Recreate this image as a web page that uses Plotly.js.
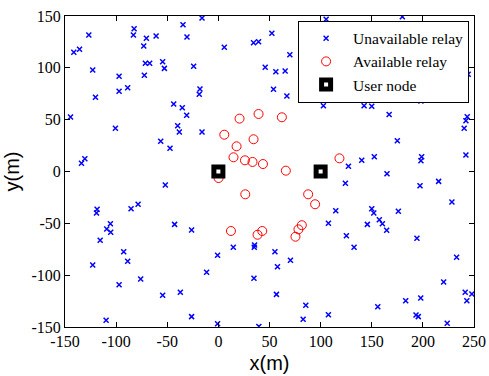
<!DOCTYPE html>
<html><head><meta charset="utf-8">
<script src="https://cdn.plot.ly/plotly-3.0.1.min.js"></script>
<style>html,body{margin:0;padding:0;background:#fff}#c{width:489px;height:376px}</style>
</head><body><div id="c"></div>
<script>
const unavailX = [-16,-82.4,-34.6,-126.7,-83.1,-70.4,-60.9,-30.7,-73,-135.8,-141.4,-71.4,-67.2,-54.5,-52.8,-122.9,-24.2,-97.1,-72.4,-88.7,-97.1,-18,-18.7,-120.2,-43.7,-35.3,-31,-144.6,-100.7,-39.8,-38.2,-16,-56.4,-47.3,-130.6,-133.9,-51.9,-118.6,-119.2,-85.4,-78.5,-105.6,-42.8,-109.2,-105.3,-26.2,-115.6,-92.6,-88.7,-0.8,-122.9,-11.5,-97.1,-76,-54.5,-37.2,-109.8,-26.2,-0.8,5.8,34.4,39.3,52.3,69.9,45.8,56.2,65.3,53.9,67,102.7,142.5,150,105.4,128.8,140.2,127.2,124.2,114.8,107.6,167,243.4,242.1,240.4,175,152.5,198.8,198.1,242.1,164.9,215.4,197.2,228.4,150,152,176,157.4,160.4,145.7,179.9,244.3,183.5,198.1,125.2,132.7,14.6,35.4,35.1,55.3,70.5,57.8,34.8,56.8,85.5,107.6,82.9,39.6,164.6,194.2,233,220.3,241.4,247.9,243,183.2,197.9,155.9,193.3,195.5,223.8];
const unavailY = [148,137.7,141.6,131.7,131.7,128.5,130.7,129.7,121,117.9,115,104.4,104.4,105.9,99.5,97.9,101.5,91.8,92.8,80.8,77.4,79.6,74.5,71.6,65.1,61.5,54.2,52.6,41.7,44.2,38.1,38.1,29.1,22.4,12.3,7.9,-13,-36.5,-40,-35.9,-31.6,-50.4,-51,-55.5,-58.6,-56.4,-66.4,-77.4,-86.6,-80.8,-90.2,-97.2,-109.2,-103.7,-119.4,-116.5,-143.5,-140,-146.8,119.8,124.2,125.2,133.3,112.7,100.5,96.3,96.9,79.3,72.8,63.5,63.5,62.9,146.8,75.4,10.8,5,-11.4,-37.8,-50,55,52.9,49,41.7,29.7,14.3,14.3,10.4,15.9,-2.1,-9.5,-13.7,-29.4,-35.9,-40,-38.4,-46.5,-50.4,-51,149.3,93.8,72.8,68,-61.9,-73.1,-73.1,-70.9,-73.1,-77.4,-85.7,-91.8,-103,-118.5,-129.1,-138.1,-142.6,-149.5,-56.7,-64.4,-82.8,-106.6,-116.5,-118.2,-124.6,-124.6,-122,-130.4,-138.4,-140,-146.4];
const availX = [20.7,39.3,62.1,5.8,34.4,17.8,14.8,26,33.4,43.6,66,118.4,0.2,26.3,87.8,94.6,81.6,12.3,38.3,42.9,75.4,78.3];
const availY = [51,55.5,52.3,35.5,31.1,24.3,13.7,10.8,9.2,7.2,0.8,12.7,-6.3,-22,-22,-31.6,-51.8,-57.4,-61,-57.4,-62.9,-55.8];
const userX = [0,100];
const userY = [0,0];
const xTicks = [-150,-100,-50,0,50,100,150,200,250];
const yTicks = [-150,-100,-50,0,50,100,150];

const serif = '"Liberation Serif", "Times New Roman", serif';
const sans = '"Liberation Sans", Arial, sans-serif';
const traces = [
  {x: unavailX, y: unavailY, type:'scatter', mode:'markers', name:'Unavailable relay',
   marker:{symbol:'x-thin', size:5, line:{color:'#0000ff', width:1.5}, color:'#0000ff'}},
  {x: availX, y: availY, type:'scatter', mode:'markers', name:'Available relay',
   marker:{symbol:'circle-open', size:9, color:'#ff0000', line:{width:1}}},
  {x: userX, y: userY, type:'scatter', mode:'markers', name:'User node',
   marker:{symbol:'square', size:9, color:'#ffffff', line:{color:'#000000', width:5}}}
];
const axisCommon = {showgrid:false, zeroline:false, showline:true, linecolor:'#000', linewidth:1,
  mirror:'ticks', ticks:'inside', ticklen:5, tickcolor:'#000',
  tickfont:{family:serif, size:16, color:'#000'}};
const layout = {
  width:489, height:376, paper_bgcolor:'#fff', plot_bgcolor:'#fff',
  margin:{l:65, r:15, t:16, b:49},
  showlegend:true,
  legend:{x:0.988, y:0.985, xanchor:'right', yanchor:'top', bgcolor:'#fff', bordercolor:'#000', borderwidth:1,
    itemwidth:44, font:{family:serif, size:15.5, color:'#000'}, tracegroupgap:0},
  xaxis:Object.assign({}, axisCommon, {range:[-150,250], tickvals:xTicks, ticktext:xTicks.map(String),
    title:{text:'x(m)', font:{family:sans, size:20, color:'#000'}, standoff:6}}),
  yaxis:Object.assign({}, axisCommon, {range:[-150,150], tickvals:yTicks, ticktext:yTicks.map(String),
    title:{text:'y(m)', font:{family:sans, size:20, color:'#000'}, standoff:6}})
};
Plotly.newPlot('c', traces, layout, {displayModeBar:false, staticPlot:true});
</script>
</body></html>
